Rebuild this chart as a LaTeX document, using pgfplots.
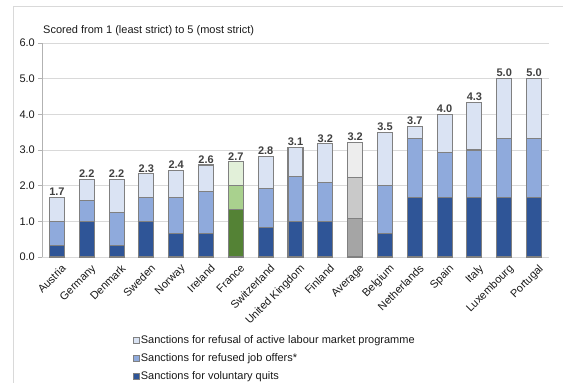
\documentclass[border=0pt]{standalone}
\usepackage{pgfplots}
\pgfplotsset{compat=1.18}
\usepackage{pgfplotstable}
\usepackage{fontspec}
\setmainfont{Liberation Sans}
\definecolor{blueD}{RGB}{47,85,151}
\definecolor{blueM}{RGB}{143,170,220}
\definecolor{blueL}{RGB}{218,227,243}
\definecolor{greenD}{RGB}{84,130,53}
\definecolor{greenM}{RGB}{169,209,142}
\definecolor{greenL}{RGB}{226,240,217}
\definecolor{grayD}{RGB}{165,165,165}
\definecolor{grayM}{RGB}{201,201,201}
\definecolor{grayL}{RGB}{237,237,237}
\definecolor{borderc}{RGB}{128,128,128}
\definecolor{gridc}{RGB}{217,217,217}
\definecolor{labc}{RGB}{64,64,64}
\newcommand\f{\fontsize{11bp}{13.2bp}\selectfont}
% q = voluntary quits, j = refused job offers, a = refusal of ALMP
% g* = France (green), v* = Average (grey)
\pgfplotstableread{
x q j a gq gj ga vq vj va tot
0 0.33 0.67 0.67 0 0 0 0 0 0 1.67
1 1.00 0.58 0.59 0 0 0 0 0 0 2.17
2 0.33 0.92 0.92 0 0 0 0 0 0 2.17
3 1.00 0.67 0.66 0 0 0 0 0 0 2.33
4 0.67 1.00 0.75 0 0 0 0 0 0 2.42
5 0.67 1.16 0.75 0 0 0 0 0 0 2.58
6 0 0 0 1.33 0.67 0.67 0 0 0 2.67
7 0.83 1.09 0.91 0 0 0 0 0 0 2.83
8 1.00 1.25 0.83 0 0 0 0 0 0 3.08
9 1.00 1.08 1.09 0 0 0 0 0 0 3.17
10 0 0 0 0 0 0 1.07 1.17 0.98 3.22
11 0.67 1.33 1.50 0 0 0 0 0 0 3.50
12 1.67 1.66 0.34 0 0 0 0 0 0 3.67
13 1.67 1.25 1.08 0 0 0 0 0 0 4.00
14 1.67 1.33 1.33 0 0 0 0 0 0 4.33
15 1.67 1.66 1.67 0 0 0 0 0 0 5.00
16 1.67 1.66 1.67 0 0 0 0 0 0 5.00
}\data
\pgfplotsset{
  common/.style={
    at={(0,0)}, anchor=south west,
    scale only axis, width=507bp, height=214bp,
    xmin=-0.5, xmax=16.5, ymin=0, ymax=6,
    /pgf/number format/fixed, /pgf/number format/fixed zerofill,
    /pgf/number format/precision=1,
    /pgf/number format/assume math mode=true,
  }
}
\begin{document}
\begin{tikzpicture}
\useasboundingbox (-42bp,-126bp) rectangle (521bp,257bp);
\draw[black!15, line width=0.8bp] (-29bp,-200bp) rectangle (540bp,251bp);
\begin{axis}[
  common,
  ybar stacked, bar width=15bp,
  xtick={0,...,16},
  xticklabels={Austria,Germany,Denmark,Sweden,Norway,Ireland,France,Switzerland,United Kingdom,Finland,Average,Belgium,Netherlands,Spain,Italy,Luxembourg,Portugal},
  ytick={0,...,6},
  axis y line*=left, axis x line*=bottom,
  x axis line style={draw=none},
  y axis line style={draw=black!30, line width=0.8bp},
  xtick style={draw=none},
  ytick style={draw=black!30, line width=0.8bp},
  tick align=outside, major tick length=4bp,
  ymajorgrids, grid style={draw=gridc, line width=0.9bp},
  tick label style={font=\f, text=black!90},
  xticklabel style={xshift=4bp, yshift=-1bp, rotate=45, anchor=north east, inner sep=1bp},
  yticklabel style={inner sep=3bp},
  title={Scored from 1 (least strict) to 5 (most strict)},
  title style={at={(0,1)}, anchor=base west, xshift=1bp, yshift=4bp, inner sep=0pt, font=\f, text=black!90},
  every axis plot/.append style={draw=borderc, line width=1.1bp},
  reverse legend,
  legend cell align=left,
  legend image code/.code={\draw[#1, line width=0.5bp] (0bp,-2.8bp) rectangle (5.6bp,2.8bp);},
  legend style={draw=none, fill=none, at={(0.1795,-0.358)}, anchor=north west,
    font=\f, text=black!90, row sep=5.5bp, inner sep=0pt,
    nodes={inner sep=1.5bp}},
]
\addplot[fill=blueD] table[x=x,y=q] {\data};
\addplot[fill=blueM] table[x=x,y=j] {\data};
\addplot[fill=blueL] table[x=x,y=a] {\data};
\addplot[fill=greenD, forget plot] table[x=x,y=gq] {\data};
\addplot[fill=greenM, forget plot] table[x=x,y=gj] {\data};
\addplot[fill=greenL, forget plot] table[x=x,y=ga] {\data};
\addplot[fill=grayD, forget plot] table[x=x,y=vq] {\data};
\addplot[fill=grayM, forget plot] table[x=x,y=vj] {\data};
\addplot[fill=grayL, forget plot] table[x=x,y=va] {\data};
\legend{Sanctions for voluntary quits, Sanctions for refused job offers*, Sanctions for refusal of active labour market programme}
\end{axis}
\begin{axis}[
  common, hide axis,
]
\addplot[draw=none, mark=none, point meta=y,
  nodes near coords,
  every node near coord/.append style={font=\f\bfseries, text=labc, inner sep=1.5bp, anchor=south}]
  table[x=x,y=tot] {\data};
\end{axis}
\end{tikzpicture}
\end{document}
